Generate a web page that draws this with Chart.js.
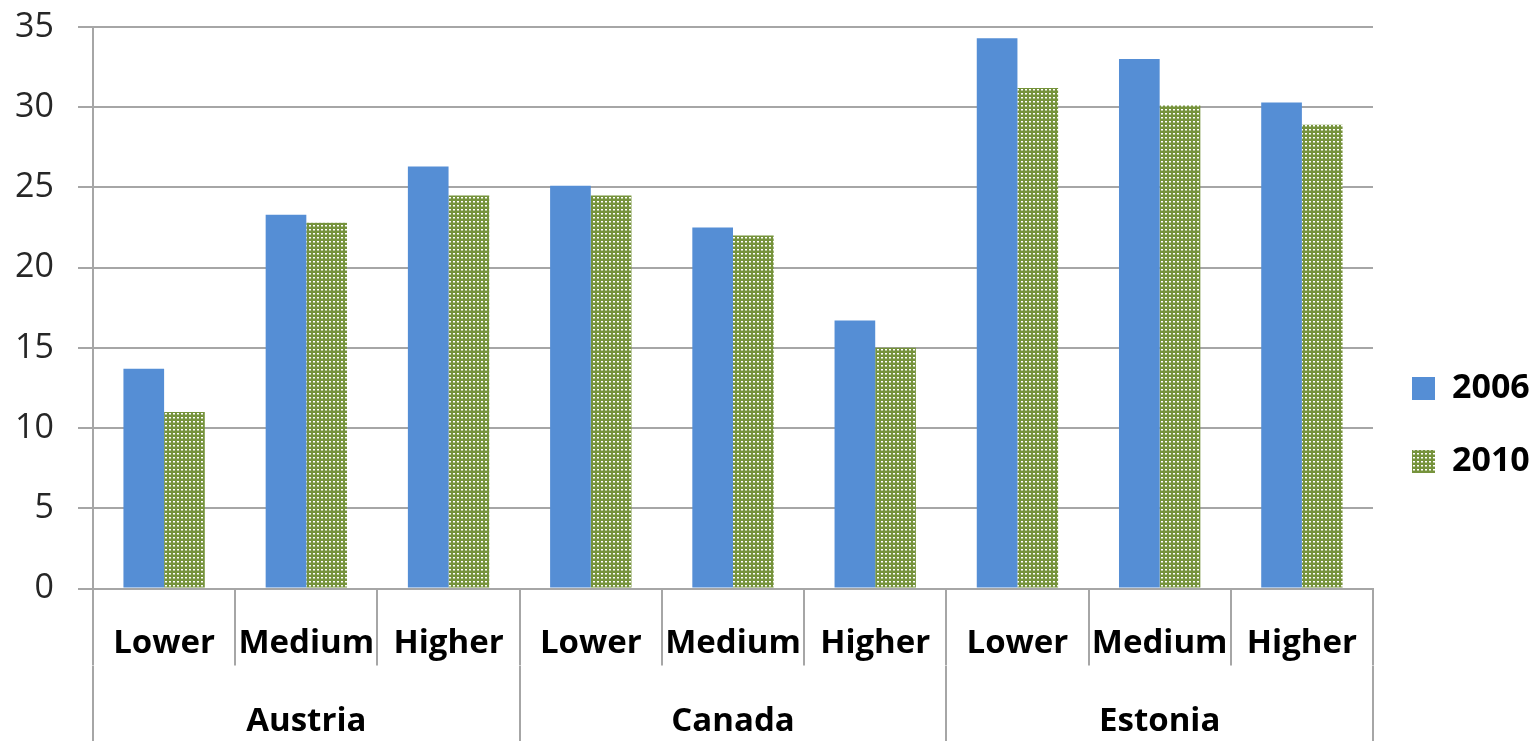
<!DOCTYPE html>
<html>
<head>
<meta charset="utf-8">
<script src="https://cdn.jsdelivr.net/npm/chart.js@4.4.1/dist/chart.umd.min.js"></script>
<style>
  html, body { margin: 0; padding: 0; background: #ffffff; overflow: hidden; }
  #wrap { width: 1539px; height: 741px; position: relative; }
</style>
</head>
<body>
<div id="wrap"><canvas id="chart"></canvas></div>
<script>
// Education level categories, grouped by country
const countries = ['Austria', 'Canada', 'Estonia'];
const levels = ['Lower', 'Medium', 'Higher', 'Lower', 'Medium', 'Higher', 'Lower', 'Medium', 'Higher'];
const seriesNames = ['2006', '2010'];
const values2006 = [13.7, 23.3, 26.3, 25.1, 22.5, 16.7, 34.3, 33.0, 30.3];
const values2010 = [11.0, 22.8, 24.5, 24.5, 22.0, 15.0, 31.2, 30.1, 28.9];
const yMin = 0, yMax = 35, yStep = 5;

const GRID = '#a6a6a6';
const BLUE = '#558ed5';
const GREEN = '#76933c';

// dotted green fill used for the 2010 series
function dottedPattern() {
  const c = document.createElement('canvas');
  c.width = 4; c.height = 4;
  const g = c.getContext('2d');
  g.fillStyle = GREEN;
  g.fillRect(0, 0, 4, 4);
  g.fillStyle = '#ffffff';
  g.fillRect(1, 1, 2, 1);
  g.fillStyle = 'rgba(255,255,255,0.5)';
  g.fillRect(1, 2, 2, 1);
  return g.createPattern(c, 'repeat');
}
const greenFill = dottedPattern();

const FONT = 'Open Sans';

new Chart(document.getElementById('chart'), {
  type: 'bar',
  data: {
    labels: levels,
    datasets: [
      { label: seriesNames[0], data: values2006, backgroundColor: BLUE, borderWidth: 0,
        xAxisID: 'x', categoryPercentage: 0.572, barPercentage: 1.0 },
      { label: seriesNames[1], data: values2010, backgroundColor: greenFill, borderWidth: 0,
        xAxisID: 'x', categoryPercentage: 0.572, barPercentage: 1.0 }
    ]
  },
  options: {
    responsive: true,
    maintainAspectRatio: false,
    animation: false,
    layout: { padding: { top: 27, left: 0, right: 0, bottom: 0 } },
    plugins: {
      tooltip: { enabled: false },
      legend: {
        position: 'right',
        maxWidth: 166,
        title: { display: true, text: ' ', color: 'rgba(0,0,0,0)', font: { size: 10 }, padding: { top: 35, bottom: 35 } },
        labels: {
          boxWidth: 23,
          boxHeight: 23,
          padding: 39,
          color: '#000000',
          font: { family: FONT, size: 34, weight: 'bold' }
        }
      }
    },
    scales: {
      y: {
        min: yMin,
        max: yMax,
        ticks: {
          stepSize: yStep,
          padding: 24,
          color: '#262626',
          font: { family: FONT, size: 34 }
        },
        grid: { color: GRID, lineWidth: 2, tickLength: 15 },
        border: { display: true, color: GRID, width: 2 },
        afterFit: (s) => { s.width = 93; s.paddingTop = 0; s.paddingBottom = 0; }
      },
      x: {
        type: 'category',
        position: 'bottom',
        weight: 0,
        grid: { offset: true, drawOnChartArea: false, color: GRID, lineWidth: 2, tickLength: 77 },
        border: { display: true, color: GRID, width: 2 },
        ticks: {
          autoSkip: false,
          maxRotation: 0,
          minRotation: 0,
          padding: -42,
          color: '#000000',
          font: { family: FONT, size: 33, weight: 'bold' }
        },
        afterFit: (s) => { s.height = 77; }
      },
      x2: {
        type: 'category',
        position: 'bottom',
        weight: 1,
        labels: countries,
        grid: { offset: true, drawOnChartArea: false, color: GRID, lineWidth: 2, tickLength: 100 },
        border: { display: false },
        ticks: {
          autoSkip: false,
          maxRotation: 0,
          minRotation: 0,
          padding: -64,
          color: '#000000',
          font: { family: FONT, size: 33, weight: 'bold' }
        },
        afterFit: (s) => { s.height = 75.5; }
      }
    }
  }
});
</script>
</body>
</html>
